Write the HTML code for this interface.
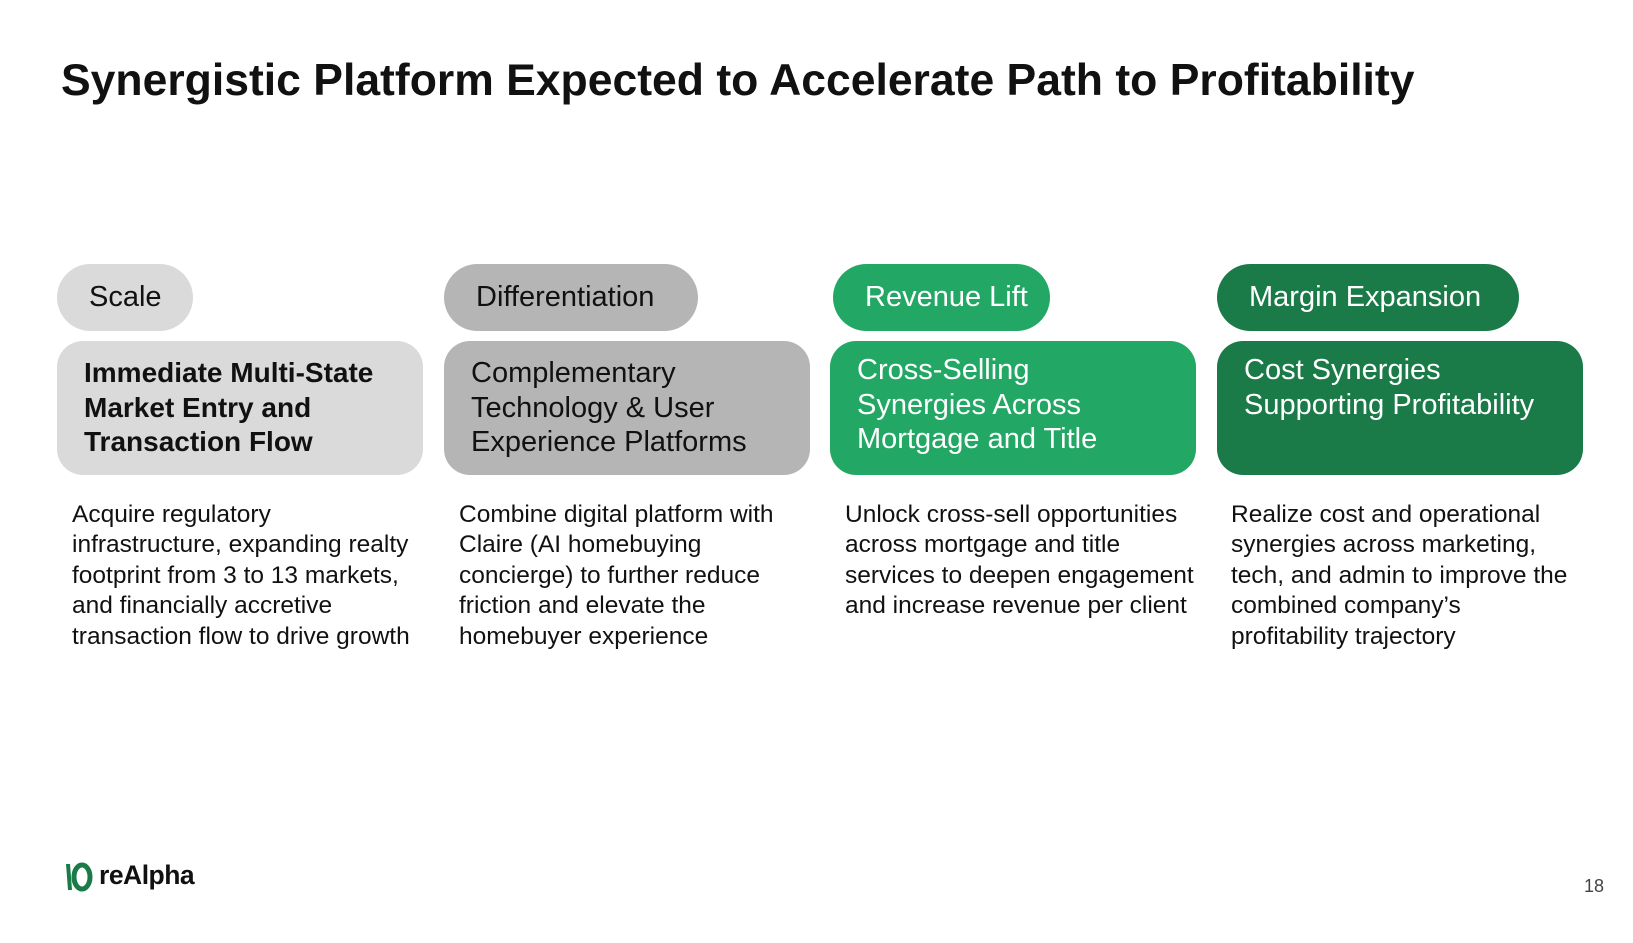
<!DOCTYPE html>
<html><head><meta charset="utf-8"><style>
*{margin:0;padding:0;box-sizing:border-box}
body{width:1633px;height:943px;background:#fff;position:relative;overflow:hidden;font-family:"Liberation Sans",sans-serif;color:#111}
.t{position:absolute;left:61px;top:56px;font-size:44.5px;font-weight:bold;white-space:nowrap}
.pill{position:absolute;top:264px;height:67px;border-radius:34px;font-size:29px;line-height:67px;padding-left:32px;white-space:nowrap}
.box{position:absolute;top:341px;width:366px;height:134px;border-radius:26px;padding:15px 0 0 27px;font-size:29px;line-height:34.5px;white-space:nowrap}
.body{position:absolute;top:500px;font-size:24.5px;line-height:30.4px;width:380px;white-space:nowrap}
.lg{background:#dadada}.g{background:#b5b5b5}.gr{background:#22a864;color:#fff}.dg{background:#1a7a48;color:#fff}
</style></head><body>
<div class="t">Synergistic Platform Expected to Accelerate Path to Profitability</div>

<div class="pill lg" style="left:57px;width:136px">Scale</div>
<div class="pill g" style="left:444px;width:254px">Differentiation</div>
<div class="pill gr" style="left:833px;width:217px">Revenue Lift</div>
<div class="pill dg" style="left:1217px;width:302px">Margin Expansion</div>

<div class="box lg" style="left:57px;font-weight:bold;font-size:28px">Immediate Multi-State<br>Market Entry and<br>Transaction Flow</div>
<div class="box g" style="left:444px">Complementary<br>Technology &amp; User<br>Experience Platforms</div>
<div class="box gr" style="left:830px;padding-top:12px">Cross-Selling<br>Synergies Across<br>Mortgage and Title</div>
<div class="box dg" style="left:1217px;padding-top:12px">Cost Synergies<br>Supporting Profitability</div>

<div class="body" style="left:72px">Acquire regulatory<br>infrastructure, expanding realty<br>footprint from 3 to 13 markets,<br>and financially accretive<br>transaction flow to drive growth</div>
<div class="body" style="left:459px">Combine digital platform with<br>Claire (AI homebuying<br>concierge) to further reduce<br>friction and elevate the<br>homebuyer experience</div>
<div class="body" style="left:845px">Unlock cross-sell opportunities<br>across mortgage and title<br>services to deepen engagement<br>and increase revenue per client</div>
<div class="body" style="left:1231px">Realize cost and operational<br>synergies across marketing,<br>tech, and admin to improve the<br>combined company’s<br>profitability trajectory</div>

<svg style="position:absolute;left:64px;top:862px" width="32" height="30" viewBox="0 0 32 30">
<path d="M2 2 L6 2 L8 28 L4 28 Z" fill="#1a7a48"/>
<ellipse cx="18" cy="15" rx="8" ry="12" fill="none" stroke="#1a7a48" stroke-width="5"/>
</svg>
<div style="position:absolute;left:99px;top:860px;font-size:26.5px;font-weight:bold;letter-spacing:-0.5px">reAlpha</div>
<div style="position:absolute;left:1584px;top:876px;font-size:18px;color:#444">18</div>
</body></html>
